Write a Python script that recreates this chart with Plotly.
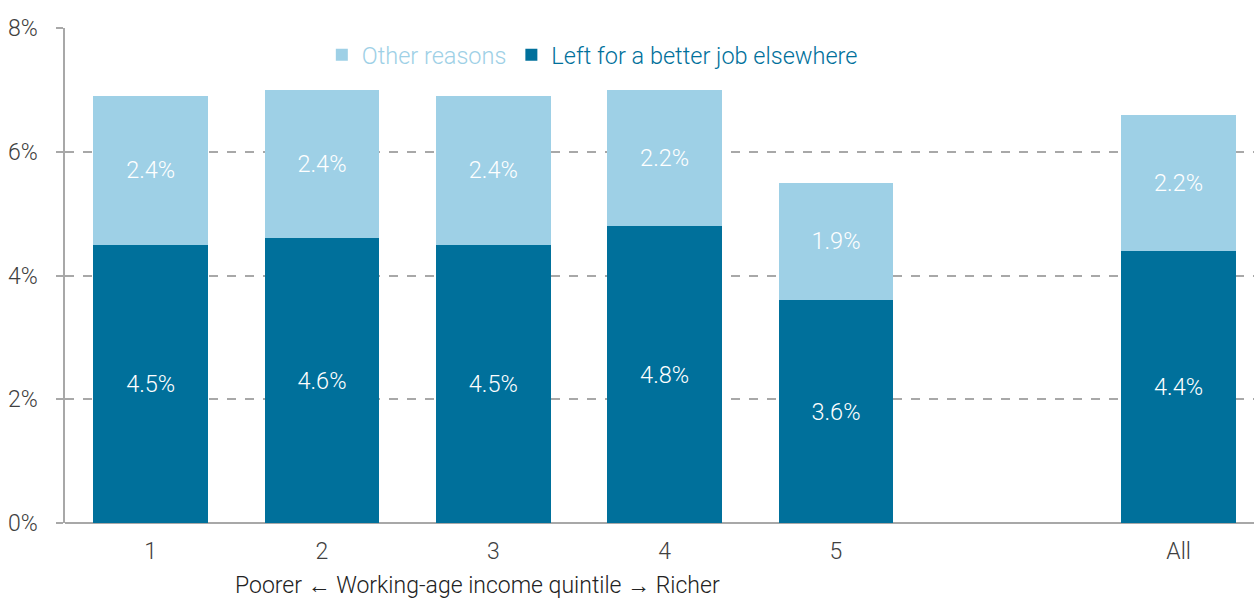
import plotly.graph_objects as go

# Share of workers leaving their job, by working-age income quintile
categories = ["1", "2", "3", "4", "5", "All"]
better_job = [4.5, 4.6, 4.5, 4.8, 3.6, 4.4]
other_reasons = [2.4, 2.4, 2.4, 2.2, 1.9, 2.2]

y_ticks = [0, 2, 4, 6, 8]
x_title = "Poorer \u2190 Working-age income quintile \u2192 Richer"

DARK = "#00709b"
LIGHT = "#9ed0e6"
GRID = "#a8a8a8"
TEXT = "#404040"
FONT = "Roboto"

# leave an empty slot between quintile 5 and "All"
slots = [i if c != "All" else i + 1 for i, c in enumerate(categories)]

label_font = dict(color="white", size=23.5, family=FONT, weight=300)

fig = go.Figure()
fig.add_trace(go.Bar(
    x=slots, y=better_job,
    name=f'<span style="color:{DARK}">Left for a better job elsewhere</span>',
    marker=dict(color=DARK, line=dict(width=0)),
    width=0.67,
    text=[f"{v:.1f}%" for v in better_job],
    textposition="inside", insidetextanchor="middle",
    textfont=label_font,
    hoverinfo="skip",
))
fig.add_trace(go.Bar(
    x=slots, y=other_reasons,
    name=f'<span style="color:{LIGHT}">Other reasons</span>',
    marker=dict(color=LIGHT, line=dict(width=0)),
    width=0.67,
    text=[f"{v:.1f}%" for v in other_reasons],
    textposition="inside", insidetextanchor="middle",
    textfont=label_font,
    hoverinfo="skip",
))

fig.add_annotation(
    x=1.91, xref="x", y=0, yref="paper",
    yanchor="middle", yshift=-62,
    text=x_title, showarrow=False,
    font=dict(size=23, color="#222222", family=FONT, weight=300),
)

fig.update_layout(
    width=1254, height=600,
    margin=dict(l=65, r=0, t=28, b=77),
    barmode="stack",
    plot_bgcolor="white", paper_bgcolor="white",
    font=dict(family=FONT, size=23, color=TEXT, weight=300),
    showlegend=True,
    legend=dict(
        orientation="h", traceorder="reversed",
        x=0.216, xanchor="left", y=0.99, yanchor="top",
        font=dict(size=23.5, family=FONT, weight=300),
        bgcolor="rgba(0,0,0,0)", itemwidth=30,
    ),
    uniformtext=dict(mode=False),
)
fig.update_xaxes(
    range=[-0.5, 6.44],
    tickvals=slots, ticktext=categories,
    showgrid=False, zeroline=False,
    showline=False, ticks="",
    tickfont=dict(size=23, color=TEXT, family=FONT, weight=300),
    ticklabelstandoff=12,
)
fig.update_yaxes(
    range=[0, 8],
    tickvals=y_ticks, ticktext=[f"{v}%" for v in y_ticks],
    showgrid=True, gridcolor=GRID, griddash="dash", gridwidth=1.5,
    zeroline=True, zerolinecolor=GRID, zerolinewidth=1.5,
    showline=True, linecolor=GRID, linewidth=1.5,
    ticks="outside", ticklen=7, tickcolor=GRID, tickwidth=1.5,
    tickfont=dict(size=23, color=TEXT, family=FONT, weight=300),
    ticklabelstandoff=14,
)

fig.write_html("out.html")
